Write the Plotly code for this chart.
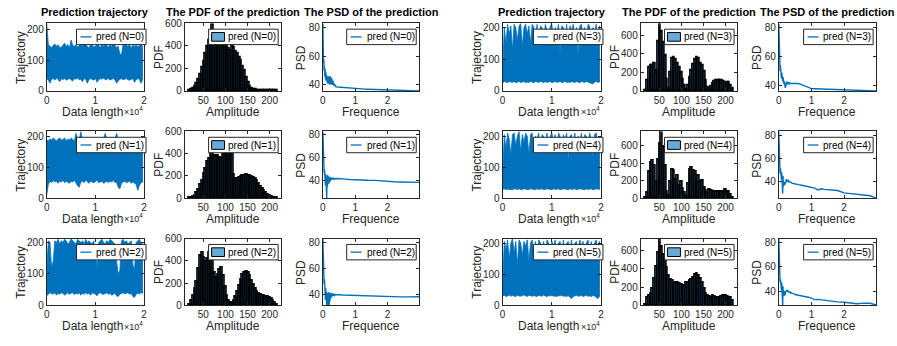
import plotly.graph_objects as go

FONT = "Liberation Sans, Arial, Helvetica, sans-serif"
BLUE = "#0072BD"
AX = "#262626"
W, H = 897, 346

# ---------------- prediction trajectories (upper / lower swing per block of samples)
traj_hi_0 = [219, 150, 145, 140, 148, 152, 145, 150, 140, 142,
             148, 155, 145, 150, 140, 165, 148, 145, 150, 142,
             148, 150, 145, 160, 150, 146, 140, 150, 148, 142,
             145, 150, 148, 140, 152, 145, 150, 148, 142, 150,
             145, 152, 148, 140, 145, 120, 118, 150, 160, 148,
             145, 150, 140, 148, 145, 150, 142, 148, 150, 145]
traj_lo_0 = [40, 35, 25, 38, 40, 35, 42, 38, 30, 40,
             36, 42, 35, 38, 40, 36, 32, 40, 38, 42,
             36, 38, 30, 40, 38, 25, 36, 40, 38, 35,
             40, 28, 36, 40, 38, 42, 36, 38, 40, 35,
             38, 40, 36, 25, 32, 38, 40, 36, 38, 40,
             36, 35, 38, 40, 28, 36, 40, 38, 25, 35]
traj_hi_1 = [190, 185, 192, 188, 195, 190, 185, 192, 195, 188,
             190, 195, 185, 192, 188, 195, 190, 185, 210, 192,
             188, 216, 190, 195, 188, 192, 190, 195, 188, 190,
             192, 185, 195, 190, 188, 192, 210, 190, 185, 195,
             188, 192, 190, 210, 188, 185, 195, 190, 188, 192,
             195, 190, 185, 192, 188, 195, 190, 185, 195, 190]
traj_lo_1 = [10, 45, 55, 50, 58, 52, 55, 48, 55, 52,
             58, 50, 55, 52, 48, 55, 52, 58, 50, 40,
             35, 52, 55, 50, 58, 52, 48, 55, 52, 50,
             55, 58, 50, 52, 55, 48, 52, 55, 50, 55,
             52, 58, 50, 52, 35, 30, 48, 52, 55, 50,
             52, 55, 48, 52, 50, 45, 25, 40, 50, 52]
traj_hi_2 = [110, 205, 200, 120, 140, 205, 200, 210, 195, 205,
             200, 210, 205, 195, 200, 212, 205, 200, 195, 210,
             205, 200, 205, 195, 210, 200, 205, 200, 195, 205,
             150, 120, 200, 205, 210, 200, 195, 205, 200, 210,
             205, 200, 195, 140, 100, 110, 205, 210, 200, 205,
             195, 200, 205, 130, 110, 200, 205, 210, 200, 195]
traj_lo_2 = [30, 35, 40, 38, 35, 40, 32, 38, 35, 40,
             38, 32, 36, 40, 35, 38, 40, 34, 38, 36,
             40, 32, 38, 35, 40, 36, 38, 32, 40, 38,
             35, 30, 38, 40, 36, 35, 38, 40, 35, 38,
             32, 36, 38, 30, 28, 35, 38, 40, 36, 38,
             40, 35, 38, 28, 25, 35, 38, 36, 40, 38]
traj_hi_3 = [60, 200, 150, 210, 180, 205, 130, 210, 200, 160,
             205, 213, 140, 200, 210, 180, 205, 150, 210, 200,
             170, 210, 130, 205, 200, 160, 210, 190, 140, 205,
             210, 150, 200, 180, 210, 120, 205, 200, 160, 210,
             140, 205, 190, 210, 150, 200, 110, 205, 210, 170,
             200, 140, 210, 205, 160, 200, 180, 210, 150, 205]
traj_lo_3 = [25, 30, 28, 26, 30, 28, 27, 30, 26, 28,
             30, 27, 28, 30, 26, 28, 27, 30, 28, 26,
             30, 28, 27, 30, 28, 26, 30, 27, 28, 30,
             26, 28, 30, 27, 28, 30, 26, 28, 30, 27,
             28, 26, 30, 28, 27, 30, 28, 26, 30, 28,
             27, 30, 28, 26, 24, 22, 28, 30, 27, 28]
traj_hi_4 = [70, 205, 160, 210, 190, 140, 205, 210, 170, 200,
             215, 150, 205, 180, 210, 200, 140, 205, 210, 160,
             200, 190, 210, 130, 205, 200, 170, 210, 150, 200,
             210, 180, 205, 140, 210, 200, 160, 205, 190, 210,
             120, 200, 205, 170, 210, 150, 200, 180, 210, 140,
             205, 200, 160, 210, 190, 130, 205, 210, 170, 200]
traj_lo_4 = [28, 30, 27, 29, 30, 28, 27, 30, 29, 28,
             30, 27, 28, 30, 29, 27, 28, 30, 29, 28,
             27, 30, 28, 29, 30, 27, 28, 30, 29, 28,
             27, 30, 28, 29, 30, 27, 28, 30, 29, 28,
             27, 30, 28, 29, 30, 27, 28, 30, 29, 28,
             27, 30, 28, 29, 30, 27, 28, 30, 29, 28]
traj_hi_5 = [65, 205, 180, 210, 150, 200, 214, 170, 205, 130,
             210, 200, 160, 205, 190, 210, 140, 200, 210, 170,
             205, 150, 210, 200, 180, 205, 130, 210, 200, 160,
             205, 190, 210, 150, 200, 205, 170, 210, 140, 200,
             205, 180, 210, 130, 200, 205, 160, 210, 190, 205,
             140, 200, 210, 170, 205, 150, 200, 210, 180, 205]
traj_lo_5 = [30, 32, 28, 30, 33, 29, 31, 30, 28, 32,
             30, 29, 31, 33, 30, 28, 32, 30, 29, 31,
             30, 28, 32, 30, 29, 33, 30, 28, 31, 30,
             32, 29, 30, 28, 31, 30, 32, 29, 30, 28,
             31, 25, 22, 28, 30, 32, 29, 30, 31, 28,
             30, 32, 29, 30, 28, 31, 30, 25, 22, 28]
last_sample = 19700

# ---------------- amplitude histograms (4-unit bins centred at 20, 24, ..., 216)
amp_centers = [20 + 4 * i for i in range(50)]
pdf_0 = [5, 10, 25, 40, 70, 100, 150, 210, 260, 330,
         400, 450, 470, 590, 460, 450, 475, 440, 430, 420,
         415, 395, 380, 360, 400, 385, 350, 330, 300, 270,
         220, 180, 120, 80, 45, 25, 15, 10, 8, 6,
         5, 5, 4, 4, 3, 3, 3, 2, 2, 1]
pdf_1 = [2, 5, 12, 25, 50, 80, 120, 160, 220, 270,
         330, 360, 400, 440, 385, 380, 385, 370, 370, 390,
         400, 420, 440, 520, 420, 210, 180, 180, 185, 195,
         200, 205, 210, 208, 200, 195, 185, 175, 155, 130,
         105, 85, 65, 50, 35, 25, 18, 10, 5, 2]
pdf_2 = [2, 40, 90, 150, 210, 330, 450, 470, 430, 390,
         420, 470, 460, 400, 290, 250, 280, 320, 335, 270,
         170, 90, 40, 25, 25, 40, 75, 120, 180, 235,
         280, 295, 300, 290, 265, 220, 185, 150, 120, 105,
         100, 90, 88, 82, 80, 70, 58, 40, 25, 5]
pdf_3 = [5, 110, 250, 270, 275, 300, 220, 530, 725, 640,
         520, 380, 120, 30, 200, 350, 360, 340, 300, 250,
         200, 120, 60, 20, 60, 150, 220, 290, 340, 360,
         350, 300, 270, 210, 110, 40, 25, 45, 80, 100,
         110, 115, 115, 110, 100, 80, 90, 95, 60, 25]
pdf_4 = [5, 60, 300, 410, 430, 370, 190, 440, 630, 762,
         590, 370, 80, 25, 190, 330, 320, 210, 260, 150,
         190, 110, 60, 25, 170, 330, 350, 320, 300, 190,
         260, 190, 200, 120, 90, 60, 95, 90, 60, 80,
         78, 70, 72, 78, 75, 96, 80, 78, 40, 5]
pdf_5 = [5, 80, 100, 130, 180, 290, 420, 580, 730, 640,
         560, 500, 410, 320, 285, 265, 250, 247, 245, 235,
         230, 195, 210, 250, 250, 265, 280, 300, 335, 350,
         330, 290, 250, 180, 130, 110, 90, 85, 105, 95,
         88, 80, 70, 95, 105, 100, 95, 88, 80, 50]

# ---------------- power spectral densities
freq = [i / 100 for i in range(41)] + [0.45, 0.5, 0.6, 0.7, 0.8, 0.9, 1.0, 1.1, 1.2, 1.3,
                                       1.4, 1.6, 1.8, 2.0, 2.2, 2.4, 2.6, 2.8, 2.98]
psd_0 = [83, 63, 55, 58, 50, 53, 46, 51, 44, 49, 43, 47, 42, 46, 41, 46, 42, 45, 41, 46,
         40.5, 45, 41, 46, 40.5, 44, 41, 45, 40.5, 44, 40, 43, 40, 42, 39.5, 41, 39.5, 40.5, 39, 40, 38.8,
         38.6, 38.5, 38.2, 38, 37.6, 37.5, 37.3, 37.2, 37.1, 37.05, 37, 36.8, 36.7, 36.6, 36.5, 36.3, 36.1, 36, 35.8]
psd_1 = [83, 65, 52, 55, 47, 50, 38, 48, 36, 46, 33, 45, 25, 44, 35, 45, 37, 44, 38, 43.5,
         39, 43.5, 40, 43, 40.5, 43, 41, 42.5, 41, 42.5, 41.2, 42.3, 41.3, 42.2, 41.4, 42, 41.5, 42, 41.6, 42, 41.8,
         42, 42, 41.8, 41.5, 41.2, 41, 40.8, 40.7, 40.6, 40.55, 40.5, 40.4, 39.8, 39.4, 39.2, 39, 38.9, 38.8, 38.7]
psd_2 = [83, 66, 56, 60, 48, 52, 40, 47, 36, 45, 34, 43, 32, 42, 33, 41, 32.5, 40, 34, 42,
         32, 41, 35, 41.5, 37, 41, 38, 41, 38.5, 40.8, 39, 40.7, 39.3, 40.5, 39.5, 40.5, 39.6, 40.4, 39.8, 40.3, 40,
         40.2, 40, 39.8, 39.7, 39.5, 39.4, 39.3, 39.25, 39.2, 39.15, 39.1, 39, 38.6, 38.5, 38.4, 38.4, 38.4, 38.5, 38.5]
psd_3 = [83, 65, 57, 60, 50, 54, 47, 51, 45, 49, 44, 47, 43, 46, 42, 44, 41, 43, 40, 41,
         38.5, 40, 39.5, 42, 41, 43, 41.5, 42.5, 41, 42.3, 41, 42, 41, 42.2, 41.2, 42, 41.3, 42, 41.2, 41.8, 41.5,
         41.5, 41.6, 41.5, 40.8, 40, 39, 38, 37.9, 37.8, 37.75, 37.7, 37.8, 37.6, 37, 36.8, 36.7, 36.6, 36.5, 36.4]
psd_4 = [83, 64, 55, 58, 47, 52, 44, 50, 42, 48, 41, 46, 30, 45, 36, 42, 38, 40, 37, 39.5,
         38, 40.5, 40, 42, 41.5, 42, 40.5, 41, 40.5, 41, 40, 40.5, 39.8, 40.2, 39.5, 40, 39.2, 39.6, 39, 39.3, 38.8,
         38.5, 38, 37.5, 37, 36.5, 36, 35, 34.5, 33, 34, 33.5, 33.2, 32.5, 30.5, 30, 29.5, 29, 28, 26]
psd_5 = [83, 62, 54, 57, 47, 50, 43, 48, 41, 47, 40, 45, 28.4, 44, 36, 41, 37, 40, 36.5, 39,
         37.5, 40, 39, 40.5, 40, 41, 39.5, 40.5, 39.5, 40, 39, 39.8, 38.8, 39.5, 38.6, 39.2, 38.5, 39, 38.3, 38.8, 38.3,
         38, 37.2, 36.6, 36.2, 35.5, 35, 34.2, 33, 33.2, 32.8, 32.3, 31.8, 31.2, 30.8, 30.3, 29.6, 30.1, 30, 28.6]

series = [
    (traj_hi_0, traj_lo_0, pdf_0, psd_0),
    (traj_hi_1, traj_lo_1, pdf_1, psd_1),
    (traj_hi_2, traj_lo_2, pdf_2, psd_2),
    (traj_hi_3, traj_lo_3, pdf_3, psd_3),
    (traj_hi_4, traj_lo_4, pdf_4, psd_4),
    (traj_hi_5, traj_lo_5, pdf_5, psd_5),
]

# ---------------- page geometry (pixels)
COLS = [(44, 142), (183, 280), (322, 419), (503, 602), (642, 739), (781, 879)]
ROWS = [(18, 88), (130, 199), (241, 310)]
TITLES = ["Prediction trajectory", "The PDF of the prediction", "The PSD of the prediction"]
XLABELS = ["Data length", "Amplitude", "Frequence"]
YLABELS = ["Trajectory", "PDF", "PSD"]


def px(x):
    return x / W


def py(y):
    return 1 - y / H


fig = go.Figure()
layout = {}
shapes, annos = [], []


def axis_style(dom, rng, tickvals, ticktext, anchor):
    d = dict(domain=dom, range=rng, tickvals=tickvals, ticks="inside", ticklen=3,
             tickwidth=1, tickcolor=AX, showline=True, linecolor=AX, linewidth=1,
             mirror="ticks", showgrid=False, zeroline=False, anchor=anchor,
             tickfont=dict(family=FONT, size=10, color=AX), fixedrange=True)
    if ticktext is not None:
        d["ticktext"] = ticktext
    return d


def legend_box(right, top, label, kind):
    l, r, t, b = right - 70, right, top + 6, top + 22
    shapes.append(dict(type="rect", xref="paper", yref="paper", x0=px(l), x1=px(r),
                       y0=py(b), y1=py(t), line=dict(color=AX, width=1),
                       fillcolor="white", layer="above"))
    ym = (t + b) / 2
    if kind == "line":
        shapes.append(dict(type="line", xref="paper", yref="paper", x0=px(l + 4), x1=px(l + 15),
                           y0=py(ym), y1=py(ym), line=dict(color=BLUE, width=1.3), layer="above"))
    else:
        shapes.append(dict(type="rect", xref="paper", yref="paper", x0=px(l + 3), x1=px(l + 16),
                           y0=py(ym + 4.5), y1=py(ym - 4.5), line=dict(color="black", width=1),
                           fillcolor="#66AAD7", layer="above"))
    annos.append(dict(text=label, x=px(l + 18), y=py(ym), xref="paper", yref="paper",
                      xanchor="left", yanchor="middle", showarrow=False,
                      font=dict(family=FONT, size=10, color="black")))


k = 0
for n, (hi, lo, counts, psd) in enumerate(series):
    group, row = divmod(n, 3)
    top, bot = ROWS[row]
    label = f"pred (N={n})"
    for kind in range(3):
        k += 1
        col = group * 3 + kind
        left, right = COLS[col]
        xa = "x" if k == 1 else f"x{k}"
        ya = "y" if k == 1 else f"y{k}"
        xkey = "xaxis" if k == 1 else f"xaxis{k}"
        ykey = "yaxis" if k == 1 else f"yaxis{k}"
        xdom = [px(left), px(right)]
        ydom = [py(bot), py(top)]

        if kind == 0:
            # band between the upper and lower swings of the trajectory
            xs = [last_sample * i / (len(hi) - 1) for i in range(len(hi))]
            fig.add_trace(go.Scatter(x=xs + xs[::-1], y=hi + lo[::-1], mode="lines",
                                     fill="toself", fillcolor=BLUE,
                                     line=dict(color=BLUE, width=0.8),
                                     xaxis=xa, yaxis=ya, showlegend=False, hoverinfo="skip"))
            layout[xkey] = axis_style(xdom, [0, 20000], [0, 10000, 20000], ["0", "1", "2"], ya)
            layout[ykey] = axis_style(ydom, [0, max(hi)], [0, 100, 200], None, xa)
            annos.append(dict(text="×10<sup>4</sup>", x=px(right + 1), y=py(bot + 21),
                              xref="paper", yref="paper", xanchor="right", yanchor="middle",
                              showarrow=False, font=dict(family=FONT, size=9, color=AX)))
            legend_box(right + 2, top, label, "line")
        elif kind == 1:
            fig.add_trace(go.Bar(x=amp_centers, y=counts, width=4,
                                 marker=dict(color="rgba(0,114,189,0.6)",
                                             line=dict(color="black", width=1.6)),
                                 xaxis=xa, yaxis=ya, showlegend=False, hoverinfo="skip"))
            ytop = 600 if group == 0 else max(counts)
            layout[xkey] = axis_style(xdom, [8, 226], [50, 100, 150, 200], None, ya)
            layout[ykey] = axis_style(ydom, [0, ytop], [0, 200, 400, 600], None, xa)
            legend_box(right - 3, top, label, "patch")
        else:
            fig.add_trace(go.Scatter(x=freq, y=psd, mode="lines", line=dict(color=BLUE, width=1.4),
                                     xaxis=xa, yaxis=ya, showlegend=False, hoverinfo="skip"))
            layout[xkey] = axis_style(xdom, [0, 2.98], [0, 1, 2], None, ya)
            layout[ykey] = axis_style(ydom, [min(psd), max(psd)], [40, 60, 80], None, xa)
            legend_box(right - 3, top, label, "line")

        # axis labels
        xoff = -3 if kind == 0 else 0
        annos.append(dict(text=XLABELS[kind], x=px((left + right) / 2 + xoff), y=py(bot + 22),
                          xref="paper", yref="paper", xanchor="center", yanchor="middle",
                          showarrow=False, font=dict(family=FONT, size=12, color=AX)))
        yoff = 22 if kind == 2 else 26
        annos.append(dict(text=YLABELS[kind], x=px(left - yoff), y=py((top + bot) / 2),
                          xref="paper", yref="paper", xanchor="center", yanchor="middle",
                          textangle=-90, showarrow=False,
                          font=dict(family=FONT, size=12, color=AX)))
        if row == 0:
            annos.append(dict(text=f"<b>{TITLES[kind]}</b>", x=px((left + right) / 2), y=py(top - 3),
                              xref="paper", yref="paper", xanchor="center", yanchor="bottom",
                              showarrow=False, font=dict(family=FONT, size=11, color="black")))

fig.update_layout(**layout)
fig.update_layout(width=W, height=H, autosize=False, margin=dict(l=0, r=0, t=0, b=0),
                  paper_bgcolor="white", plot_bgcolor="white", showlegend=False,
                  bargap=0, shapes=shapes, annotations=annos)
fig.write_html("out.html")
